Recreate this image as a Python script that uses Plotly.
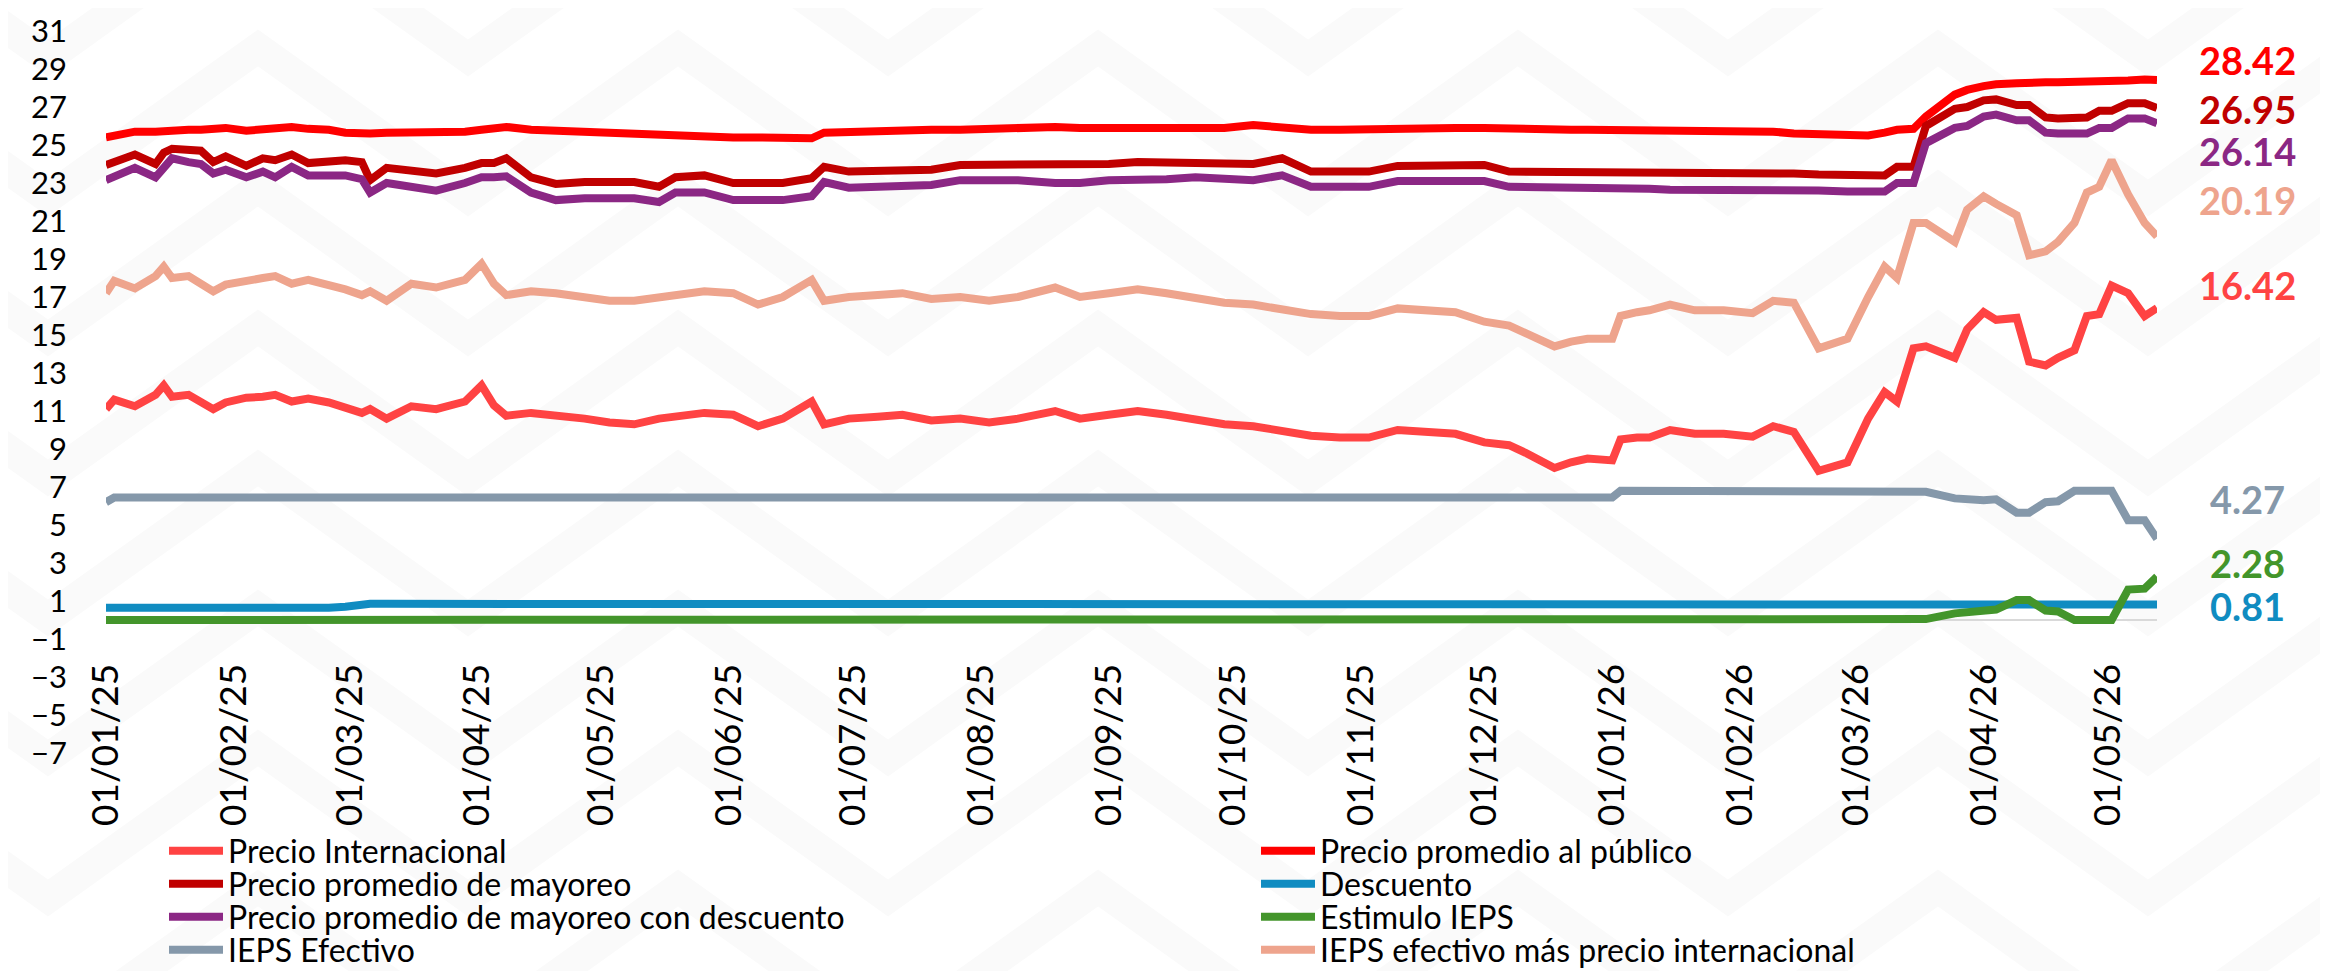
import plotly.graph_objects as go

# ---------------- data ----------------
dates = [
    "2025-01-01", "2025-01-03", "2025-01-08", "2025-01-13", "2025-01-15", "2025-01-17", "2025-01-21", "2025-01-24", "2025-01-27", "2025-01-30",
    "2025-02-04", "2025-02-08", "2025-02-11", "2025-02-15", "2025-02-19", "2025-02-24", "2025-02-28", "2025-03-04", "2025-03-06", "2025-03-10",
    "2025-03-16", "2025-03-22", "2025-03-29", "2025-04-02", "2025-04-05", "2025-04-08", "2025-04-14", "2025-04-20", "2025-04-27", "2025-05-03",
    "2025-05-09", "2025-05-15", "2025-05-19", "2025-05-26", "2025-06-02", "2025-06-08", "2025-06-14", "2025-06-21", "2025-06-24", "2025-06-30",
    "2025-07-07", "2025-07-13", "2025-07-20", "2025-07-27", "2025-08-03", "2025-08-10", "2025-08-19", "2025-08-25", "2025-09-01", "2025-09-08",
    "2025-09-15", "2025-09-22", "2025-09-29", "2025-10-06", "2025-10-13", "2025-10-20", "2025-10-27", "2025-11-03", "2025-11-10", "2025-11-17",
    "2025-11-24", "2025-12-01", "2025-12-07", "2025-12-11", "2025-12-15", "2025-12-18", "2025-12-22", "2025-12-26", "2026-01-01", "2026-01-03",
    "2026-01-07", "2026-01-10", "2026-01-15", "2026-01-21", "2026-01-28", "2026-02-04", "2026-02-09", "2026-02-14", "2026-02-20", "2026-02-27",
    "2026-03-04", "2026-03-08", "2026-03-11", "2026-03-15", "2026-03-18", "2026-03-25", "2026-03-28", "2026-04-01", "2026-04-04", "2026-04-09",
    "2026-04-12", "2026-04-16", "2026-04-19", "2026-04-23", "2026-04-26", "2026-04-29", "2026-05-02", "2026-05-06", "2026-05-10", "2026-05-13",
]

precio_internacional = [
    11.1, 11.6, 11.25, 11.85, 12.35, 11.75, 11.85, 11.45, 11.1, 11.45,
    11.7, 11.75, 11.85, 11.5, 11.65, 11.45, 11.2, 10.9, 11.1, 10.6,
    11.25, 11.1, 11.5, 12.35, 11.3, 10.75, 10.9, 10.8, 10.6, 10.4,
    10.3, 10.6, 10.7, 10.9, 10.8, 10.2, 10.6, 11.5, 10.3, 10.6,
    10.7, 10.8, 10.5, 10.6, 10.4, 10.6, 11.0, 10.6, 10.8, 11.0,
    10.8, 10.5, 10.3, 10.2, 9.9, 9.7, 9.6, 9.6, 10.0, 9.9,
    9.8, 9.35, 9.2, 8.8, 8.35, 8.0, 8.3, 8.5, 8.4, 9.5,
    9.6, 9.6, 10.0, 9.8, 9.8, 9.65, 10.2, 9.9, 7.85, 8.3,
    10.6, 12.0, 11.5, 14.3, 14.4, 13.8, 15.3, 16.2, 15.8, 15.9,
    13.6, 13.4, 13.8, 14.2, 16.0, 16.1, 17.6, 17.2, 16.0, 16.42,
]

precio_publico = [
    25.4, 25.5, 25.7, 25.7, 25.75, 25.75, 25.8, 25.8, 25.85, 25.9,
    25.75, 25.85, 25.9, 25.95, 25.85, 25.8, 25.65, 25.6, 25.6, 25.65,
    25.65, 25.65, 25.7, 25.8, 25.9, 25.95, 25.8, 25.75, 25.7, 25.55,
    25.5, 25.5, 25.5, 25.45, 25.4, 25.4, 25.4, 25.35, 25.65, 25.7,
    25.7, 25.75, 25.8, 25.8, 25.85, 25.9, 25.95, 25.9, 25.9, 25.9,
    25.9, 25.9, 25.9, 26.05, 25.9, 25.8, 25.8, 25.85, 25.9, 25.9,
    25.9, 25.9, 25.85, 25.85, 25.85, 25.85, 25.8, 25.8, 25.8, 25.8,
    25.8, 25.8, 25.75, 25.75, 25.8, 25.75, 25.7, 25.6, 25.55, 25.5,
    25.5, 25.65, 25.8, 25.85, 26.5, 27.65, 27.9, 28.1, 28.2, 28.25,
    28.3, 28.3, 28.3, 28.3, 28.35, 28.35, 28.4, 28.4, 28.45, 28.42,
]

precio_mayoreo = [
    23.95, 24.1, 24.5, 24.0, 24.6, 24.8, 24.75, 24.7, 24.1, 24.4,
    23.9, 24.3, 24.2, 24.5, 24.05, 24.1, 24.2, 24.1, 23.15, 23.8,
    23.7, 23.5, 23.8, 24.05, 24.05, 24.3, 23.3, 22.95, 23.05, 23.05,
    23.05, 22.8, 23.3, 23.4, 23.0, 23.0, 23.0, 23.25, 23.85, 23.6,
    23.6, 23.7, 23.7, 23.95, 23.95, 23.95, 23.9, 23.9, 24.0, 24.1,
    24.1, 24.1, 24.1, 24.0, 24.3, 23.6, 23.6, 23.6, 23.9, 23.95,
    23.95, 23.95, 23.6, 23.6, 23.55, 23.55, 23.55, 23.55, 23.5, 23.5,
    23.5, 23.5, 23.5, 23.5, 23.5, 23.6, 23.6, 23.5, 23.45, 23.4,
    23.4, 23.4, 23.85, 23.85, 26.0, 26.9, 27.0, 27.35, 27.4, 27.1,
    27.1, 26.45, 26.4, 26.4, 26.45, 26.8, 26.8, 27.2, 27.2, 26.95,
]

descuento = [
    0.65, 0.65, 0.65, 0.62, 0.58, 0.64, 0.65, 0.65, 0.65, 0.65,
    0.65, 0.65, 0.6, 0.58, 0.64, 0.65, 0.7, 0.85, 0.85, 0.85,
    0.85, 0.85, 0.85, 0.85, 0.85, 0.85, 0.85, 0.85, 0.85, 0.85,
    0.85, 0.85, 0.85, 0.85, 0.85, 0.85, 0.85, 0.85, 0.85, 0.85,
    0.85, 0.85, 0.85, 0.85, 0.85, 0.85, 0.85, 0.85, 0.85, 0.85,
    0.85, 0.85, 0.85, 0.85, 0.85, 0.85, 0.85, 0.85, 0.85, 0.85,
    0.85, 0.85, 0.85, 0.85, 0.85, 0.85, 0.85, 0.85, 0.85, 0.85,
    0.85, 0.85, 0.85, 0.85, 0.85, 0.85, 0.85, 0.85, 0.85, 0.85,
    0.85, 0.85, 0.85, 0.85, 0.85, 0.85, 0.85, 0.85, 0.85, 0.85,
    0.85, 0.85, 0.85, 0.85, 0.85, 0.85, 0.85, 0.85, 0.85, 0.81,
]

precio_mayoreo_descuento = [
    23.15, 23.35, 23.8, 23.3, 23.85, 24.3, 24.1, 24.0, 23.5, 23.7,
    23.3, 23.6, 23.3, 23.85, 23.4, 23.4, 23.4, 23.2, 22.5, 23.0,
    22.8, 22.6, 23.0, 23.3, 23.3, 23.35, 22.5, 22.1, 22.2, 22.2,
    22.2, 22.0, 22.5, 22.5, 22.1, 22.1, 22.1, 22.3, 23.05, 22.75,
    22.8, 22.9, 22.9, 23.15, 23.15, 23.15, 23.0, 23.0, 23.15, 23.15,
    23.2, 23.3, 23.2, 23.15, 23.4, 22.8, 22.8, 22.8, 23.1, 23.1,
    23.1, 23.1, 22.8, 22.8, 22.75, 22.75, 22.75, 22.75, 22.7, 22.7,
    22.7, 22.7, 22.65, 22.65, 22.65, 22.7, 22.7, 22.6, 22.6, 22.55,
    22.55, 22.55, 23.0, 23.0, 25.1, 25.9, 26.0, 26.5, 26.6, 26.3,
    26.3, 25.65, 25.6, 25.6, 25.6, 25.9, 25.9, 26.4, 26.4, 26.14,
]

estimulo_ieps = [
    0, 0, 0, 0, 0, 0, 0, 0, 0, 0,
    0, 0, 0, 0, 0, 0, 0, 0, 0, 0,
    0, 0, 0, 0, 0, 0, 0, 0, 0, 0,
    0, 0, 0, 0, 0, 0, 0, 0, 0, 0,
    0, 0, 0, 0, 0, 0, 0, 0, 0, 0,
    0, 0, 0, 0, 0, 0, 0, 0, 0, 0,
    0, 0, 0, 0, 0, 0, 0, 0, 0, 0,
    0, 0, 0, 0, 0, 0, 0, 0, 0, 0,
    0, 0, 0, 0, 0.05, 0.35, 0.4, 0.45, 0.55, 1.05,
    1.05, 0.5, 0.45, 0, 0, 0, 0, 1.6, 1.65, 2.28,
]

ieps_efectivo = [
    6.2, 6.45, 6.45, 6.45, 6.45, 6.45, 6.45, 6.45, 6.45, 6.45,
    6.45, 6.45, 6.45, 6.45, 6.45, 6.45, 6.45, 6.45, 6.45, 6.45,
    6.45, 6.45, 6.45, 6.45, 6.45, 6.45, 6.45, 6.45, 6.45, 6.45,
    6.45, 6.45, 6.45, 6.45, 6.45, 6.45, 6.45, 6.45, 6.45, 6.45,
    6.45, 6.45, 6.45, 6.45, 6.45, 6.45, 6.45, 6.45, 6.45, 6.45,
    6.45, 6.45, 6.45, 6.45, 6.45, 6.45, 6.45, 6.45, 6.45, 6.45,
    6.45, 6.45, 6.45, 6.45, 6.45, 6.45, 6.45, 6.45, 6.45, 6.8,
    6.8, 6.8, 6.8, 6.8, 6.8, 6.8, 6.8, 6.8, 6.8, 6.8,
    6.8, 6.8, 6.8, 6.8, 6.75, 6.4, 6.35, 6.3, 6.35, 5.65,
    5.65, 6.2, 6.25, 6.8, 6.8, 6.8, 6.8, 5.25, 5.25, 4.27,
]

ieps_mas_internacional = [
    17.2, 17.85, 17.45, 18.1, 18.6, 18.0, 18.1, 17.65, 17.3, 17.65,
    17.9, 18.0, 18.1, 17.7, 17.9, 17.65, 17.4, 17.1, 17.3, 16.8,
    17.7, 17.5, 17.9, 18.75, 17.7, 17.1, 17.3, 17.2, 17.0, 16.8,
    16.8, 17.0, 17.1, 17.3, 17.2, 16.6, 17.0, 17.9, 16.8, 17.0,
    17.1, 17.2, 16.9, 17.0, 16.8, 17.0, 17.5, 17.0, 17.2, 17.4,
    17.2, 16.9, 16.7, 16.6, 16.3, 16.1, 16.0, 16.0, 16.4, 16.3,
    16.2, 15.7, 15.5, 15.1, 14.7, 14.4, 14.65, 14.8, 14.8, 16.0,
    16.2, 16.3, 16.6, 16.3, 16.3, 16.15, 16.8, 16.7, 14.3, 14.8,
    17.0, 18.6, 18.0, 20.9, 20.9, 19.9, 21.6, 22.3, 21.9, 21.3,
    19.2, 19.4, 19.9, 20.9, 22.5, 22.8, 24.2, 22.4, 20.9, 20.19,
]

series_names = [
    "Precio Internacional",
    "Precio promedio al público",
    "Precio promedio de mayoreo",
    "Descuento",
    "Precio promedio de mayoreo con descuento",
    "Estimulo IEPS",
    "IEPS Efectivo",
    "IEPS efectivo más precio internacional",
]
series_values = [
    precio_internacional, precio_publico, precio_mayoreo, descuento,
    precio_mayoreo_descuento, estimulo_ieps, ieps_efectivo, ieps_mas_internacional,
]

# ---------------- styling ----------------
colors = ["#FF4343", "#FF0000", "#C00000", "#108CC1", "#8B2784", "#43952B", "#8598AA", "#EEA48D"]
legend_ids = ["legend", "legend", "legend2", "legend2", "legend3", "legend3", "legend4", "legend4"]
label_y = [17.65, 29.45, 26.9, 0.75, 24.7, 3.0, 6.35, 22.1]   # end-label placement (data units)

W, H = 2328, 971
ML, MR, MT, MB = 98, 179, 23, 226
PW, PH = W - ML - MR, H - MT - MB
FONT = "Lato, 'Open Sans', sans-serif"


def px_to_paper(x, y):
    return (x - ML) / PW, (H - MB - y) / PH


fig = go.Figure()
for name, vals, col, lg in zip(series_names, series_values, colors, legend_ids):
    fig.add_trace(go.Scatter(
        x=dates, y=vals, mode="lines", name=name, legend=lg,
        line=dict(color=col, width=8), hoverinfo="skip",
    ))

# end-value labels
for vals, col, ly in zip(series_values, colors, label_y):
    fig.add_annotation(
        x=px_to_paper(2239, 0)[0], xref="paper", xanchor="center",
        y=ly, yref="y", yanchor="middle",
        text="<b>%.2f</b>" % vals[-1], showarrow=False,
        font=dict(family=FONT, size=38, color=col),
    )

# faint chevron background pattern
shapes = []
for row in range(-1, 9):
    y_peak = -100 + 140 * row
    pts = []
    for k in range(-1, 7):
        xp = 250 + 420 * k
        pts.append(px_to_paper(xp, y_peak))
        pts.append(px_to_paper(xp + 210, y_peak + 150))
    path = "M " + " L ".join("%.4f,%.4f" % p for p in pts)
    shapes.append(dict(type="path", path=path, xref="paper", yref="paper",
                       line=dict(color="#FAFAFA", width=30), layer="below"))

legend_rows = [("legend", 843), ("legend2", 876), ("legend3", 909), ("legend4", 942)]
legend_cfg = {}
for lid, ypx in legend_rows:
    legend_cfg[lid] = dict(
        orientation="h", x=(2340 - ML) / PW, xanchor="right",
        y=(H - MB - ypx) / PH, yanchor="middle",
        entrywidth=1023, entrywidthmode="pixels", itemwidth=54,
        font=dict(family=FONT, size=32, color="#000000"),
        bgcolor="rgba(0,0,0,0)", traceorder="normal",
    )

fig.update_layout(
    width=W, height=H,
    margin=dict(l=ML, r=MR, t=MT, b=MB, autoexpand=False),
    paper_bgcolor="#FFFFFF", plot_bgcolor="rgba(0,0,0,0)",
    font=dict(family=FONT, color="#000000"),
    showlegend=True,
    shapes=shapes,
    **legend_cfg,
)

fig.update_xaxes(
    type="date", range=["2025-01-01", "2026-05-13"],
    anchor="free", position=7 / 38,
    tick0="2025-01-01", dtick="M1", tickformat="%d/%m/%y",
    tickangle=-90, tickfont=dict(family=FONT, size=37, color="#000000"),
    ticks="", ticklabelstandoff=28,
    showgrid=False, zeroline=False,
    showline=True, linecolor="#D9D9D9", linewidth=2, layer="below traces",
)
fig.update_yaxes(
    range=[-7, 31], tick0=-7, dtick=2,
    tickfont=dict(family=FONT, size=31, color="#000000"),
    ticks="", ticklabelstandoff=38,
    showgrid=False, zeroline=False, showline=False,
)

fig.write_html("out.html")
